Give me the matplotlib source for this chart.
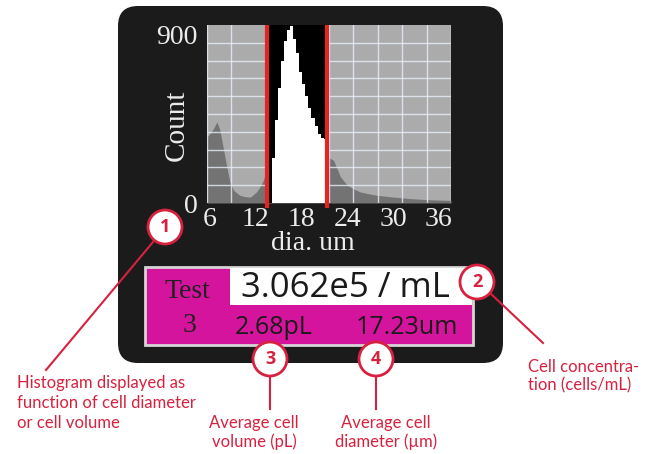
import numpy as np
import matplotlib

matplotlib.use("Agg")
import matplotlib.pyplot as plt
from matplotlib.patches import FancyBboxPatch, Rectangle, Circle, Polygon
from matplotlib.transforms import ScaledTranslation

# ---- data ----
# background population (debris + tail), diameter in um vs count
gray_x = [5.6, 6.0, 6.5, 6.9, 7.3, 7.7, 8.2, 8.6, 9.1, 9.9, 10.6, 11.3, 12.1,
          12.6, 13.0, 13.5, 14.0, 21.0, 21.4, 22.2, 23.1, 24.0, 25.0, 25.7,
          27.0, 27.9, 30.0, 32.3, 35.0, 37.6]
gray_counts = [334, 351, 380, 410, 368, 284, 182, 106, 64, 39, 32, 30, 56,
               85, 115, 182, 230, 240, 233, 216, 132, 90, 68, 56,
               45, 39, 30, 22, 16, 13]

# gated population (white bars)
white_edges = [14.1, 14.5, 14.9, 15.3, 15.7, 16.1, 16.5, 16.9, 17.3, 17.7,
               18.1, 18.5, 18.9, 19.3, 19.7, 20.1, 20.5, 20.9, 21.3]
white_counts = [230, 420, 580, 720, 820, 875, 895, 830, 760, 660,
                600, 540, 480, 430, 390, 350, 330, 325]

gate = [13.5, 21.4]
x_ticks = [6, 12, 18, 24, 30, 36]
y_ticks = [0, 900]

concentration = "3.062e5 / mL"
volume = "2.68pL"
diameter = "17.23um"
test_no = "3"

callouts = ["1", "2", "3", "4"]
notes = [
    ["Histogram displayed as", "function of cell diameter", "or cell volume"],
    ["Cell concentra-", "tion (cells/mL)"],
    ["Average cell", "volume (pL)"],
    ["Average cell", "diameter (\u00b5m)"],
]

PANEL = "#1b1b1b"
PLOT_BG = "#ababab"
HIST_GRAY = "#737373"
GRID = "#e9eefa"
GATE_RED = "#e52421"
MAGENTA = "#d4149c"
NOTE_RED = "#d6213f"
LABEL = "#ececec"

SERIF = ["Liberation Serif", "DejaVu Serif"]
SANS = ["Open Sans", "DejaVu Sans"]
NOTE_FONT = ["Lato", "DejaVu Sans"]

W, H = 650, 454
fig = plt.figure(figsize=(W / 100, H / 100), dpi=100)

# overlay in pixel units (y down)
ov = fig.add_axes([0, 0, 1, 1], zorder=0)
ov.set_xlim(0, W)
ov.set_ylim(H, 0)
ov.axis("off")

ov.add_patch(FancyBboxPatch((118, 6), 385, 357,
                            boxstyle="round,pad=0,rounding_size=20",
                            fc=PANEL, ec="none"))

# histogram
ax = fig.add_axes([207 / W, 1 - 203 / H, 244 / W, 178 / H], zorder=1)
ax.set_facecolor(PLOT_BG)
ax.set_xlim(5.6, 37.6)
ax.set_ylim(0, 900)
ax.fill_between(gray_x, gray_counts, color=HIST_GRAY, lw=0, zorder=1)
ax.set_xticks(np.linspace(5.6, 37.6, 11), minor=True)
ax.set_yticks(np.linspace(0, 900, 11), minor=True)
ax.grid(True, which="minor", color=GRID, lw=1, alpha=0.8, zorder=2)
ax.set_axisbelow(False)
ax.axvspan(gate[0], gate[1], color="black", lw=0, zorder=3)
ax.stairs(white_counts, white_edges, fill=True, color="white", lw=0, zorder=4)
for g in gate:
    ax.plot([g, g], [-25, 900], color=GATE_RED, lw=3, zorder=5,
            clip_on=False, solid_capstyle="butt")
for s in ax.spines.values():
    s.set_visible(False)
ax.set_xticks(x_ticks)
ax.set_yticks(y_ticks)
ax.tick_params(which="both", length=0, colors=LABEL, labelsize=20)
ax.tick_params(axis="x", pad=3)
ax.tick_params(axis="y", pad=7)
for t in ax.get_xticklabels() + ax.get_yticklabels():
    t.set_fontfamily(SERIF)
top_lab = ax.get_yticklabels()[-1]
top_lab.set_transform(top_lab.get_transform()
                      + ScaledTranslation(0, -0.09, fig.dpi_scale_trans))

ov.text(177, 125, "Count", rotation=90, ha="center", va="center",
        color=LABEL, fontsize=21, family=SERIF)
ov.text(313, 244, "dia. um", ha="center", va="center",
        color=LABEL, fontsize=20, family=SERIF)

# gate arrows
ov.add_patch(Polygon([(248, 115), (263, 105), (263, 125)], closed=True,
                     fc=GATE_RED, ec="none"))
ov.add_patch(Polygon([(346, 115), (333, 105), (333, 125)], closed=True,
                     fc=GATE_RED, ec="none"))

# readout box
ov.add_patch(Rectangle((145, 267), 328, 78, fc=MAGENTA, ec="#d6d6d6", lw=2))
ov.add_patch(Rectangle((230, 268), 242, 37, fc="white", ec="none"))
ov.text(187, 291, "Test", ha="center", va="center", color="#222222",
        fontsize=20, family=SERIF)
ov.text(190, 325, test_no, ha="center", va="center", color="#222222",
        fontsize=20, family=SERIF)
ov.text(345, 288, concentration, ha="center", va="center", color="#1a1a1a",
        fontsize=25, family=SANS)
ov.text(274, 327, volume, ha="center", va="center", color="#1a1a1a",
        fontsize=18, family=SANS)
ov.text(407, 327, diameter, ha="center", va="center", color="#1a1a1a",
        fontsize=18, family=SANS)

# callouts
circ_xy = [(165, 227), (477, 282), (270, 359), (376, 359)]
leaders = [((153, 242), (46, 370)), ((490, 293), (543, 343)),
           ((270, 376), (270, 409)), ((376, 376), (376, 409))]
note_pos = [(17, 383, "left"), (528, 367, "left"),
            (254, 423, "center"), (386, 423, "center")]
line_gap = [20, 18, 19, 19]

for i, lab in enumerate(callouts):
    (x0, y0), (x1, y1) = leaders[i]
    ov.plot([x0, x1], [y0, y1], color=NOTE_RED, lw=1.5, zorder=5)
    cx, cy = circ_xy[i]
    ov.add_patch(Circle((cx, cy), 17, fc="white", ec=NOTE_RED, lw=2, zorder=6))
    ov.text(cx, cy, lab, ha="center", va="center", color=NOTE_RED,
            fontsize=13, fontweight="bold", family=SANS, zorder=7)
    nx, ny, ha = note_pos[i]
    for k, line in enumerate(notes[i]):
        ov.text(nx, ny + k * line_gap[i], line, ha=ha, va="center",
                color=NOTE_RED, fontsize=12, family=NOTE_FONT)

fig.savefig("out.png", dpi=100)
